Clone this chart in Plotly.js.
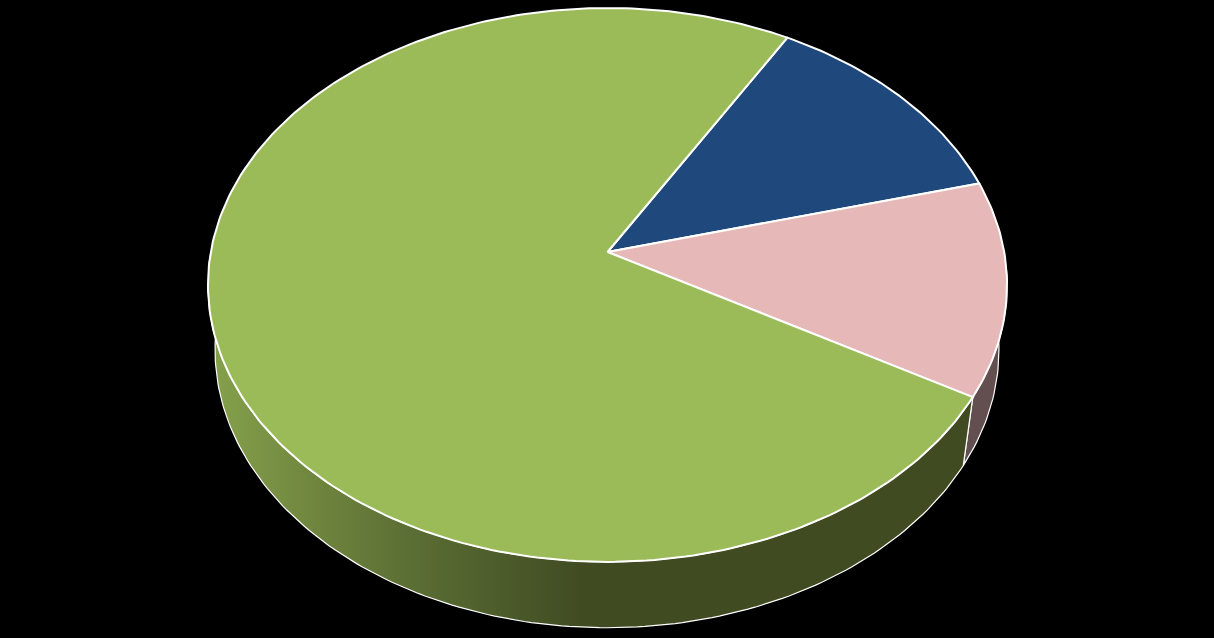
<!DOCTYPE html>
<html>
<head>
<meta charset="utf-8">
<script src="https://cdn.plot.ly/plotly-3.0.1.min.js"></script>
<style>html,body{margin:0;padding:0;background:#000;overflow:hidden}</style>
</head>
<body>
<div id="chart" style="width:1214px;height:638px"></div>
<script>
// Data (percent share, clockwise from the first slice)
var sliceShares = [12.5, 12.5, 75];
var sliceTopColors = ['#1f497d', '#e6b9b8', '#9bbb59'];
var sliceWallColors = ['#13294a', '#634f4f', '#404b22'];
var wallGradient = [[0, '#84a04b'], [0.12, '#71883f'], [0.25, '#5c7035'], [0.49, '#404b22'], [1, '#404b22']];
var firstSliceAngle = 30;   // degrees clockwise from the far side

// Projection of the tilted disc (perspective)
var topDisc = {cx: 607.5, cy: 252, a: 396.7, b: 273, k: 0.119};
var baseDisc = {cx: 607, cy: 320.5, a: 389.8, b: 275, k: 0.105};

function project(d, deg) {
  var r = deg * Math.PI / 180, u = Math.sin(r), v = -Math.cos(r), w = 1 - d.k * v;
  return [d.cx + d.a * u / w, d.cy + d.b * v / w];
}
function arc(d, from, to) {
  var n = Math.max(2, Math.ceil(Math.abs(to - from))), pts = [];
  for (var i = 0; i <= n; i++) pts.push(project(d, from + (to - from) * i / n));
  return pts;
}
function poly(pts, color, width, extra) {
  var t = {
    type: 'scatter', mode: 'lines',
    x: pts.map(function (p) { return p[0]; }),
    y: pts.map(function (p) { return p[1]; }),
    fill: 'toself', fillcolor: color,
    line: {color: '#ffffff', width: width, shape: 'linear'},
    hoverinfo: 'skip', showlegend: false
  };
  for (var key in extra) t[key] = extra[key];
  return t;
}

var walls = [], tops = [], total = sliceShares.reduce(function (s, v) { return s + v; }, 0), angle = firstSliceAngle;
sliceShares.forEach(function (share, i) {
  var from = angle, to = angle + share / total * 360;
  var wFrom = Math.max(from, 90), wTo = Math.min(to, 270);
  if (wTo > wFrom) {
    var wallPts = arc(topDisc, wFrom, wTo).concat(arc(baseDisc, wTo, wFrom));
    wallPts.push(wallPts[0]);
    var extra = i === 2 ? {fillgradient: {type: 'horizontal', colorscale: wallGradient, start: 215, stop: 965}} : {};
    walls.push(poly(wallPts, sliceWallColors[i], 1.2, extra));
  }
  var topPts = [[topDisc.cx, topDisc.cy]].concat(arc(topDisc, from, to));
  topPts.push([topDisc.cx, topDisc.cy]);
  tops.push(poly(topPts, sliceTopColors[i], 2, {}));
  angle = to;
});

Plotly.newPlot('chart', walls.concat(tops), {
  width: 1214, height: 638,
  margin: {l: 0, r: 0, t: 0, b: 0},
  paper_bgcolor: '#000000', plot_bgcolor: '#000000',
  showlegend: false,
  xaxis: {range: [0, 1214], visible: false, fixedrange: true},
  yaxis: {range: [638, 0], visible: false, fixedrange: true}
}, {displayModeBar: false, staticPlot: true});
</script>
</body>
</html>
